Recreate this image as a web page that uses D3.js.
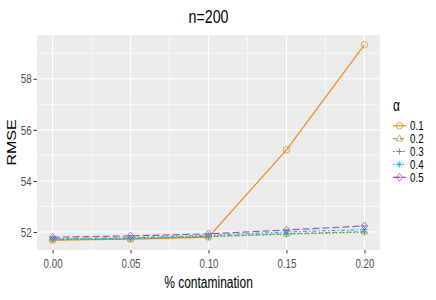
<!DOCTYPE html>
<html>
<head>
<meta charset="utf-8">
<script src="https://cdn.jsdelivr.net/npm/d3@7"></script>
<style>
  body { margin: 0; background: #fff; }
  text { font-family: "Liberation Sans", Arial, sans-serif; }
</style>
</head>
<body>
<svg id="chart" width="436" height="300"></svg>
<script>
// Data
const contamination = [0.00, 0.05, 0.10, 0.15, 0.20];
const alphas = ["0.1", "0.2", "0.3", "0.4", "0.5"];
const rmse01 = [51.68, 51.72, 51.80, 55.22, 59.33];
const rmse02 = [51.72, 51.75, 51.83, 51.93, 52.02];
const rmse03 = [51.70, 51.74, 51.82, 51.92, 52.00];
const rmse04 = [51.74, 51.78, 51.87, 52.00, 52.10];
const rmse05 = [51.80, 51.85, 51.93, 52.08, 52.24];
const yTicks = [52, 54, 56, 58];
const xTicks = [0.00, 0.05, 0.10, 0.15, 0.20];

const seriesList = [rmse01, rmse02, rmse03, rmse04, rmse05];
const colors = ["#F28A1E", "#A89F5E", "#2EA05A", "#2CB8E0", "#9A5BB5"];
const dashes = [null, "4,3", "1.5,2", "1.5,2,4,2", "7,3"];

// the text in the picture is squeezed sideways
const SX = 0.75;

const svg = d3.select("#chart");
const margin = {left: 37, right: 380, top: 35, bottom: 250};

const allVals = seriesList.flat();
const yMin = d3.min(allVals), yMax = d3.max(allVals);
const yPad = (yMax - yMin) * 0.05;

const x = d3.scaleLinear().domain([-0.01, 0.21]).range([margin.left, margin.right]);
const y = d3.scaleLinear().domain([yMin - yPad, yMax + yPad]).range([margin.bottom, margin.top]);

function label(px, py, txt, size, anchor, extra) {
  return svg.append("text")
    .attr("transform", `translate(${px},${py}) scale(${SX},1)` + (extra || ""))
    .attr("text-anchor", anchor)
    .style("font-size", size + "px")
    .attr("fill", "#000")
    .text(txt);
}

// panel background
svg.append("rect")
  .attr("x", margin.left).attr("y", margin.top)
  .attr("width", margin.right - margin.left)
  .attr("height", margin.bottom - margin.top)
  .attr("fill", "#EBEBEB");

// minor grid
const xMinor = [0.025, 0.075, 0.125, 0.175];
const yMinor = [53, 55, 57, 59];
svg.selectAll(".xminor").data(xMinor).enter().append("line")
  .attr("x1", d => x(d)).attr("x2", d => x(d))
  .attr("y1", margin.top).attr("y2", margin.bottom)
  .attr("stroke", "#fff").attr("stroke-width", 0.6);
svg.selectAll(".yminor").data(yMinor).enter().append("line")
  .attr("x1", margin.left).attr("x2", margin.right)
  .attr("y1", d => y(d)).attr("y2", d => y(d))
  .attr("stroke", "#fff").attr("stroke-width", 0.6);

// major grid
svg.selectAll(".xmajor").data(xTicks).enter().append("line")
  .attr("x1", d => x(d)).attr("x2", d => x(d))
  .attr("y1", margin.top).attr("y2", margin.bottom)
  .attr("stroke", "#fff").attr("stroke-width", 1.1);
svg.selectAll(".ymajor").data(yTicks).enter().append("line")
  .attr("x1", margin.left).attr("x2", margin.right)
  .attr("y1", d => y(d)).attr("y2", d => y(d))
  .attr("stroke", "#fff").attr("stroke-width", 1.1);

// axes
const xAxis = svg.append("g")
  .attr("transform", `translate(0,${margin.bottom})`)
  .call(d3.axisBottom(x).tickValues(xTicks).tickFormat(d3.format(".2f")).tickSizeOuter(0).tickSize(3.5).tickPadding(5));
const yAxis = svg.append("g")
  .attr("transform", `translate(${margin.left},0)`)
  .call(d3.axisLeft(y).tickValues(yTicks).tickSizeOuter(0).tickSize(3.5));
[xAxis, yAxis].forEach(a => {
  a.select(".domain").remove();
  a.selectAll(".tick line").attr("stroke", "#333");
  a.selectAll(".tick text").attr("fill", "#4D4D4D").style("font-size", "13px")
    .attr("transform", `scale(${SX},1)`);
});
yAxis.selectAll(".tick text").attr("x", -5.3 / SX);

// lines and points
const line = d3.line().x((d, i) => x(contamination[i])).y(d => y(d));

function drawShape(g, k, cx, cy, col) {
  const s = 3.2;
  const p = g.append("g").attr("transform", `translate(${cx},${cy})`)
    .attr("fill", "none").attr("stroke", col).attr("stroke-width", 0.8);
  if (k === 0) {
    p.append("circle").attr("r", s);
  } else if (k === 1) {
    p.append("path").attr("d", `M0,${-s * 1.1}L${s},${s * 0.75}L${-s},${s * 0.75}Z`);
  } else if (k === 2) {
    p.append("path").attr("d", `M${-s},0H${s}M0,${-s}V${s}`);
  } else if (k === 3) {
    p.append("path").attr("d", `M${-s},0H${s}M0,${-s}V${s}M${-s * 0.75},${-s * 0.75}L${s * 0.75},${s * 0.75}M${-s * 0.75},${s * 0.75}L${s * 0.75},${-s * 0.75}`);
  } else {
    p.append("path").attr("d", `M0,${-s * 1.2}L${s},0L0,${s * 1.2}L${-s},0Z`);
    p.append("path").attr("d", `M${-s},0H${s}`);
  }
}

seriesList.forEach((vals, k) => {
  svg.append("path").datum(vals)
    .attr("d", line)
    .attr("fill", "none")
    .attr("stroke", colors[k])
    .attr("stroke-width", 1.2)
    .attr("stroke-dasharray", dashes[k]);
});
seriesList.forEach((vals, k) => {
  const g = svg.append("g");
  vals.forEach((v, i) => drawShape(g, k, x(contamination[i]), y(v), colors[k]));
});

// title and axis titles
const midX = (margin.left + margin.right) / 2;
label(midX, 23, "n=200", 19, "middle");
label(midX, 288, "% contamination", 16, "middle");
label(16, (margin.top + margin.bottom) / 2, "RMSE", 16, "middle", " rotate(-90)");

// legend
label(393, 111, "α", 16, "start");
alphas.forEach((a, k) => {
  const cy = 125.7 + k * 12.9;
  svg.append("line").attr("x1", 393).attr("x2", 406).attr("y1", cy).attr("y2", cy)
    .attr("stroke", colors[k]).attr("stroke-width", 1.2).attr("stroke-dasharray", dashes[k]);
  drawShape(svg, k, 399.5, cy, colors[k]);
  label(410, cy + 4.7, a, 13, "start");
});
</script>
</body>
</html>
